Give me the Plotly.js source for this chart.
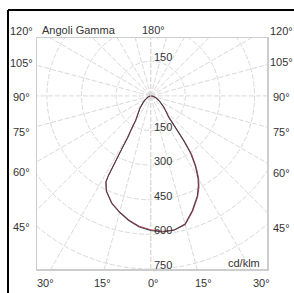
<!DOCTYPE html>
<html>
<head>
<meta charset="utf-8">
<script src="https://cdn.plot.ly/plotly-3.0.1.min.js"></script>
<style>
  html, body { margin: 0; padding: 0; background: #fff; }
  #chart { width: 294px; height: 293px; }
</style>
</head>
<body>
<div id="chart"></div>
<script>
// ---- data (cd/klm vs gamma angle, degrees from nadir) ----
const gammaC0   = [0, 5, 10, 15, 20, 25, 28, 30, 32.5, 35, 36.5, 37.5, 38, 40.5, 45, 50, 60, 70, 80, 90];
const cdC0      = [583, 592, 590, 575, 528, 478, 440, 410, 360, 300, 237, 186, 150, 118, 92, 72, 42, 24, 10, 2];
const gammaC180 = [0, 5, 10, 15, 20, 25, 27.5, 28, 28.3, 28.6, 29, 30, 32, 36, 41, 50, 55, 70, 90];
const cdC180    = [583, 570, 548, 522, 495, 455, 420, 390, 330, 260, 200, 170, 120, 92, 72, 42, 30, 12, 2];
const cdC90     = [580, 589, 590, 578, 532, 482, 446, 416, 368, 310, 250, 200, 160, 122, 94, 73, 43, 24, 10, 2];
const cdC270    = [580, 567, 546, 520, 493, 455, 422, 395, 340, 270, 210, 175, 122, 93, 72, 42, 30, 12, 2];

const rings        = [150, 300, 450, 600, 750];
const ringLabels   = ['150', '300', '450', '600', '750'];
const spokeAngles  = [0, 15, 30, 45, 60, 75, 90, 105, 120, 135, 150, 165, 180];
const sideAngles   = [45, 60, 75, 90, 105, 120];
const bottomAngles = [30, 15, 0, 15, 30];
const bottomSides  = [-1, -1, 0, 1, 1];

// ---- geometry ----
const W = 294, H = 293;
const M = {l: 37, r: 27, t: 38, b: 24};
const xr = [-493, 504];
const yr = [-750, 251];
const pw = W - M.l - M.r, ph = H - M.t - M.b;
const cdPerPx = (xr[1] - xr[0]) / pw;
const rad = d => d * Math.PI / 180;
const px2paperX = p => (p - M.l) / pw;
const px2paperY = p => (H - M.b - p) / ph;
const d2paperX = x => (x - xr[0]) / (xr[1] - xr[0]);
const d2paperY = y => (y - yr[0]) / (yr[1] - yr[0]);

function curve(gL, cL, gR, cR) {
  const x = [], y = [];
  for (let i = gL.length - 1; i >= 0; i--) { x.push(-cL[i] * Math.sin(rad(gL[i]))); y.push(-cL[i] * Math.cos(rad(gL[i]))); }
  for (let i = 0; i < gR.length; i++) { x.push(cR[i] * Math.sin(rad(gR[i]))); y.push(-cR[i] * Math.cos(rad(gR[i]))); }
  return {x, y};
}

const red = curve(gammaC180, cdC270, gammaC0, cdC90);
const dark = curve(gammaC180, cdC180, gammaC0, cdC0);

const traces = [
  {type: 'scatter', mode: 'lines', x: red.x, y: red.y, line: {color: '#d4475a', width: 1}, hoverinfo: 'skip'},
  {type: 'scatter', mode: 'lines', x: dark.x, y: dark.y, line: {color: '#4e3e48', width: 1.1}, hoverinfo: 'skip'}
];

const gridLine = {color: '#d9d9d9', width: 1, dash: '5px,2px'};
const shapes = [];
rings.forEach(r => shapes.push({type: 'circle', xref: 'x', yref: 'y', x0: -r, x1: r, y0: -r, y1: r, line: gridLine, layer: 'below'}));
const R = 3000;
spokeAngles.forEach(a => {
  [-1, 1].forEach(s => shapes.push({type: 'line', xref: 'x', yref: 'y', x0: 0, y0: 0,
    x1: s * R * Math.sin(rad(a)), y1: -R * Math.cos(rad(a)), line: gridLine, layer: 'below'}));
});
// outer black frame (top and left visible)
shapes.push({type: 'line', xref: 'paper', yref: 'paper', x0: px2paperX(8), x1: px2paperX(8), y0: px2paperY(300), y1: px2paperY(10), line: {color: '#000', width: 2}});
shapes.push({type: 'line', xref: 'paper', yref: 'paper', x0: px2paperX(8), x1: px2paperX(300), y0: px2paperY(10), y1: px2paperY(10), line: {color: '#000', width: 2}});

const font = {family: 'Liberation Sans, Arial, sans-serif', size: 11, color: '#333'};
const ann = [];
function add(text, xp, yp, xa, opts) {
  ann.push(Object.assign({text, x: xp, y: yp, xref: 'paper', yref: 'paper', xanchor: xa || 'center', yanchor: 'middle', showarrow: false, font}, opts || {}));
}
// side gamma labels
const topRowPx = 30;
const sideX = (21 - (M.l + (0 - xr[0]) / cdPerPx)) * cdPerPx;  // data x of label centres
sideAngles.forEach(a => {
  [-1, 1].forEach(s => {
    const dx = s === -1 ? sideX : -sideX * 1.005;
    let y = -Math.abs(dx) * Math.cos(rad(a)) / Math.sin(rad(a));
    let yp = d2paperY(y);
    const topP = px2paperY(topRowPx);
    if (yp > topP) yp = topP;
    add(a + '°', d2paperX(dx), yp - 0.006);
  });
});
// bottom gamma labels
const bottomY = -(283 - (M.t + (yr[1]) / cdPerPx)) * cdPerPx;
bottomAngles.forEach((a, i) => {
  const x = bottomSides[i] * Math.abs(bottomY) * Math.tan(rad(a));
  add(a + '°', d2paperX(x) + 0.01, d2paperY(bottomY));
});
// top row
add('Angoli Gamma', px2paperX(40), px2paperY(topRowPx), 'left');
add('180°', d2paperX(0) + 0.01, px2paperY(topRowPx));
// ring labels
rings.forEach((r, i) => {
  add(ringLabels[i], d2paperX(0), d2paperY(-r), 'left', {xshift: 1, yshift: 4});
  if (r < yr[1]) add(ringLabels[i], d2paperX(0), d2paperY(r), 'left', {xshift: 1, yshift: 4});
});
add('cd/klm', px2paperX(262), px2paperY(263), 'right');

const axis = {showgrid: false, zeroline: false, showticklabels: false, ticks: '', showline: true, mirror: true, linecolor: '#cdcdcd', linewidth: 1.5, fixedrange: true};

Plotly.newPlot('chart', traces, {
  width: W, height: H, margin: M,
  paper_bgcolor: '#fff', plot_bgcolor: '#fff',
  showlegend: false,
  xaxis: Object.assign({range: xr}, axis),
  yaxis: Object.assign({range: yr}, axis),
  shapes, annotations: ann
}, {displayModeBar: false, staticPlot: true});
</script>
</body>
</html>
